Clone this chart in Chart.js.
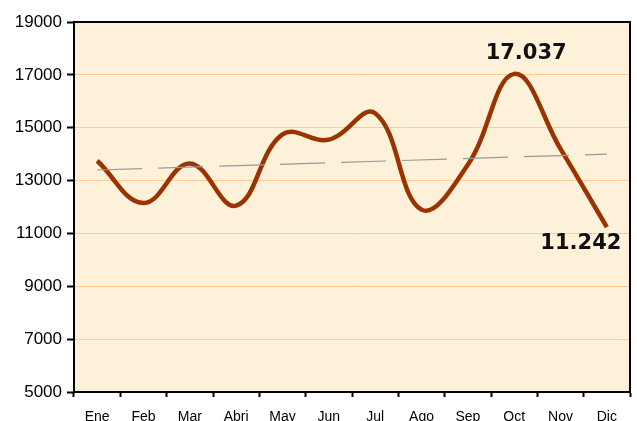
<!DOCTYPE html>
<html>
<head>
<meta charset="utf-8">
<script src="https://cdn.jsdelivr.net/npm/chart.js@4/dist/chart.umd.min.js"></script>
<style>
  html, body { margin: 0; padding: 0; background: #fff; }
  #wrap { width: 637px; height: 421px; }
</style>
</head>
<body>
<div id="wrap"><canvas id="salesChart" width="637" height="421"></canvas></div>
<script>
// Monthly values
const months = ['Ene', 'Feb', 'Mar', 'Abri', 'May', 'Jun', 'Jul', 'Ago', 'Sep', 'Oct', 'Nov', 'Dic'];
const values = [13750, 12150, 13650, 12050, 14750, 14550, 15550, 11900, 13600, 17037, 14200, 11242];
// Dashed trend line, start and end values as drawn
const trendEnds = [13400, 14000];
// Points that carry a value label
const labelIndices = [9, 11];
const yTicks = [5000, 7000, 9000, 11000, 13000, 15000, 17000, 19000];

const trendData = months.map((m, i) => i === 0 ? trendEnds[0] : (i === months.length - 1 ? trendEnds[1] : null));

function fmt(v) {
    return String(Math.round(v)).replace(/\B(?=(\d{3})+(?!\d))/g, '.');
}

// Paper background and frame of the plot area
const frame = {
    id: 'frame',
    beforeDraw(chart) {
        const a = chart.chartArea, ctx = chart.ctx;
        ctx.save();
        ctx.fillStyle = '#fdf1da';
        ctx.fillRect(a.left, a.top, a.right - a.left, a.bottom - a.top);
        ctx.restore();
    },
    afterDraw(chart) {
        const a = chart.chartArea, ctx = chart.ctx;
        ctx.save();
        ctx.strokeStyle = '#000';
        ctx.lineWidth = 2;
        ctx.strokeRect(a.left, a.top, a.right - a.left, a.bottom - a.top);
        ctx.restore();
    }
};

// Value labels on chosen points
const valueLabels = {
    id: 'valueLabels',
    afterDatasetsDraw(chart) {
        const meta = chart.getDatasetMeta(1);
        const ctx = chart.ctx;
        const offsets = { 9: [12, -20], 11: [-26, 17] };
        ctx.save();
        ctx.font = 'bold 21px "DejaVu Sans", Verdana, sans-serif';
        ctx.fillStyle = '#111';
        ctx.textAlign = 'center';
        ctx.textBaseline = 'middle';
        labelIndices.forEach(i => {
            const p = meta.data[i];
            const o = offsets[i] || [0, -20];
            ctx.fillText(fmt(values[i]), p.x + o[0], p.y + o[1]);
        });
        ctx.restore();
    }
};

const ctx = document.getElementById('salesChart').getContext('2d');
new Chart(ctx, {
    type: 'line',
    data: {
        labels: months,
        datasets: [
            {
                label: 'Tendencia',
                data: trendData,
                borderColor: '#9a9a9a',
                borderWidth: 1.2,
                borderDash: [45, 16],
                pointRadius: 0,
                spanGaps: true,
                tension: 0,
                fill: false
            },
            {
                label: 'Ventas',
                data: values,
                borderColor: '#993300',
                borderWidth: 4.5,
                pointRadius: 0,
                tension: 0.4,
                fill: false
            }
        ]
    },
    options: {
        responsive: false,
        animation: false,
        layout: { padding: { top: 22, right: 7, left: 0, bottom: 0 } },
        plugins: {
            legend: { display: false },
            tooltip: { enabled: false }
        },
        scales: {
            x: {
                offset: true,
                grid: {
                    display: true,
                    drawOnChartArea: false,
                    offset: true,
                    tickLength: 5,
                    tickColor: '#000',
                    tickWidth: 2
                },
                border: { color: '#000', width: 2 },
                ticks: {
                    color: '#000',
                    padding: 12,
                    font: { family: '"Liberation Sans Narrow", "Liberation Sans", Arial, sans-serif', size: 14 }
                },
                afterFit(scale) { scale.height = 29; }
            },
            y: {
                min: 5000,
                max: 19000,
                afterBuildTicks(scale) {
                    scale.ticks = yTicks.map(v => ({ value: v }));
                },
                grid: {
                    color: '#ffcc99',
                    lineWidth: 1,
                    tickLength: 7,
                    tickColor: '#000',
                    tickWidth: 2
                },
                border: { color: '#000', width: 2 },
                ticks: {
                    color: '#000',
                    padding: 5,
                    font: { family: '"Liberation Sans", Arial, sans-serif', size: 17 },
                    callback: v => String(v)
                },
                afterFit(scale) { scale.width = 74; }
            }
        }
    },
    plugins: [frame, valueLabels]
});
</script>
</body>
</html>
